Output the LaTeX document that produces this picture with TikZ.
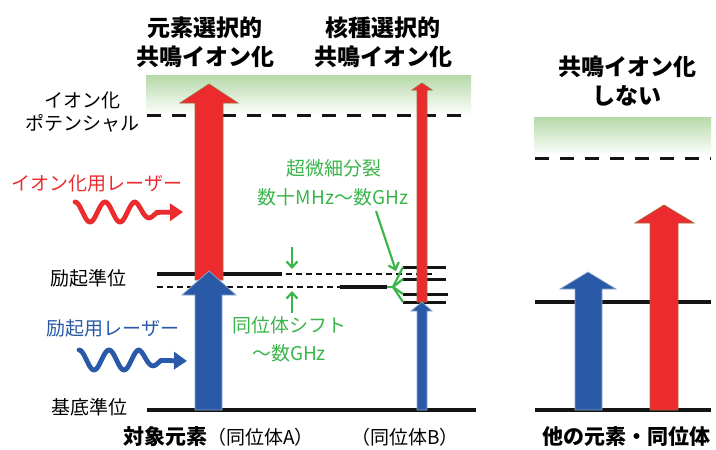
\documentclass[tikz,border=0pt]{standalone}
\usepackage{fontspec}
\setmainfont{Noto Sans CJK JP}
\usetikzlibrary{arrows.meta}
\definecolor{lred}{HTML}{EB2B2E}
\definecolor{lrededge}{HTML}{A8683C}
\definecolor{lblue}{HTML}{2A5AA7}
\definecolor{lblueedge}{HTML}{8FA8CC}
\definecolor{lgreen}{HTML}{3AB54A}
\definecolor{band}{HTML}{B5D9A8}
\tikzset{
  lbl/.style={font=\fontsize{19}{19}\selectfont, inner sep=0},
  ttl/.style={font=\fontsize{23}{23}\selectfont\bfseries, inner sep=0},
  glbl/.style={lbl, text=lgreen},
  level/.style={line width=4pt, black!92},
  ionline/.style={line width=3pt, black!92, dash pattern=on 14pt off 11pt},
  thindash/.style={line width=1.8pt, black!92, dash pattern=on 6pt off 4pt},
  redarrow/.style={fill=lred, draw=lrededge, line width=0.7pt},
  bluearrow/.style={fill=lblue, draw=lblueedge, line width=0.7pt},
  garrow/.style={lgreen, line width=2.2pt, -{Straight Barb[length=6pt,width=11pt]}},
  wave/.style={line width=4.8pt, line cap=round, -{Triangle[length=13pt,width=17pt]}},
}
\begin{document}
\begin{tikzpicture}[x=1pt,y=-1pt]
\useasboundingbox (0,0) rectangle (716,450);

% ionization bands
\shade[top color=band, bottom color=white] (146,75) rectangle (471,115);
\shade[top color=band, bottom color=white] (534,117) rectangle (711,155);
\draw[ionline] (147,115) coordinate (ionL1) -- (471,115) coordinate (ionL2);
\draw[ionline] (535,158) coordinate (ionR1) -- (711,158) coordinate (ionR2);

% titles
\node[ttl] (t1a) at (205,28) {元素選択的};
\node[ttl] (t1b) at (205,57) {共鳴イオン化};
\node[ttl] (t2a) at (383,28) {核種選択的};
\node[ttl] (t2b) at (383,57) {共鳴イオン化};
\node[ttl] (t3a) at (627,67) {共鳴イオン化};
\node[ttl] (t3b) at (627,96) {しない};

% left labels
\node[lbl] (ip1) at (83,100) {イオン化};
\node[lbl] (ip2) at (83,123) {ポテンシャル};
\node[lbl, text=lred] (irl) at (97,183) {イオン化用レーザー};
\node[lbl] (exl) at (88,278) {励起準位};
\node[lbl, text=lblue] (erl) at (113,328) {励起用レーザー};
\node[lbl] (gnd) at (90,407) {基底準位};

% waves
\draw[wave, lred] plot[domain=0:82, samples=90] ({75+\x}, {212 - 10*min(1,(95-\x)/35)*cos(12*\x)}) -- (183,212);
\draw[wave, lblue] plot[domain=0:82, samples=90] ({79+\x}, {360 - 10*min(1,(95-\x)/35)*cos(12*\x)}) -- (187,361);

% levels
\draw[level] (147,410) coordinate (g1) -- (476,410) coordinate (g2);
\draw[level] (535,410) coordinate (g3) -- (711,410) coordinate (g4);
\draw[level] (535,302) coordinate (e3) -- (711,302) coordinate (e4);
\draw[level] (157,274) coordinate (eA1) -- (282,274) coordinate (eA2);
\draw[thindash] (286,274) coordinate (eA3) -- (436,274) coordinate (eA4);
\draw[thindash] (157,287) coordinate (eB1) -- (340,287) coordinate (eB2);
\draw[level] (340,287) -- (387,287) coordinate (eB3);
\foreach \yy/\xe [count=\i] in {267/446, 279/446, 294/448, 302/446}{
  \draw[line width=3pt, black!92] (403,\yy) coordinate (hf\i) -- (\xe,\yy);
}

% green annotations
\coordinate (fan) at (393,287);
\draw[lgreen, line width=2.2pt] (eB3) -- (fan);
\foreach \i in {1,...,4}{\draw[lgreen, line width=2.2pt] (fan) -- (hf\i);}
\node[glbl] (hfs1) at (334,168) {超微細分裂};
\node[glbl] (hfs2) at (333,197) {数十MHz～数GHz};
\coordinate (ga1) at (376,211);
\coordinate (ga2) at (396,271);
\draw[garrow] (ga1) -- (ga2);
\coordinate (sd1) at (292,247); \coordinate (sd2) at (292,269);
\coordinate (su1) at (292,313); \coordinate (su2) at (292,291);
\draw[garrow] (sd1) -- (sd2);
\draw[garrow] (su1) -- (su2);
\node[glbl] (is1) at (289,325) {同位体シフト};
\node[glbl] (is2) at (289,353) {～数GHz};

% big arrows (left)
\draw[redarrow] (195,280) -- (195,103) -- (180,103) -- (209,84) -- (238,103) -- (223,103) -- (223,280) -- cycle;
\draw[bluearrow] (195,410) -- (195,295) -- (182,295) -- (209,271) -- (236,295) -- (222,295) -- (222,410) -- cycle;
% thin arrows (isotope B)
\draw[redarrow] (417,302) -- (417,90) -- (412,90) -- (422,83) -- (432,90) -- (427,90) -- (427,302) -- cycle;
\draw[bluearrow] (417,410) -- (417,311) -- (411,311) -- (422,302) -- (432,311) -- (427,311) -- (427,410) -- cycle;
% right panel arrows
\draw[bluearrow] (575,410) -- (575,289) -- (560,289) -- (588,272) -- (616,289) -- (602,289) -- (602,410) -- cycle;
\draw[redarrow] (650,410) -- (650,223) -- (635,223) -- (664,205) -- (694,223) -- (678,223) -- (678,410) -- cycle;

% bottom labels
\node[lbl, anchor=west] (bA) at (123,437) {{\fontsize{21}{21}\selectfont\bfseries 対象元素}（同位体A）};
\node[lbl] (bB) at (405,437) {（同位体B）};
\node[ttl, font=\fontsize{21}{21}\selectfont\bfseries] (bC) at (626,437) {他の元素・同位体};
\end{tikzpicture}
\end{document}
